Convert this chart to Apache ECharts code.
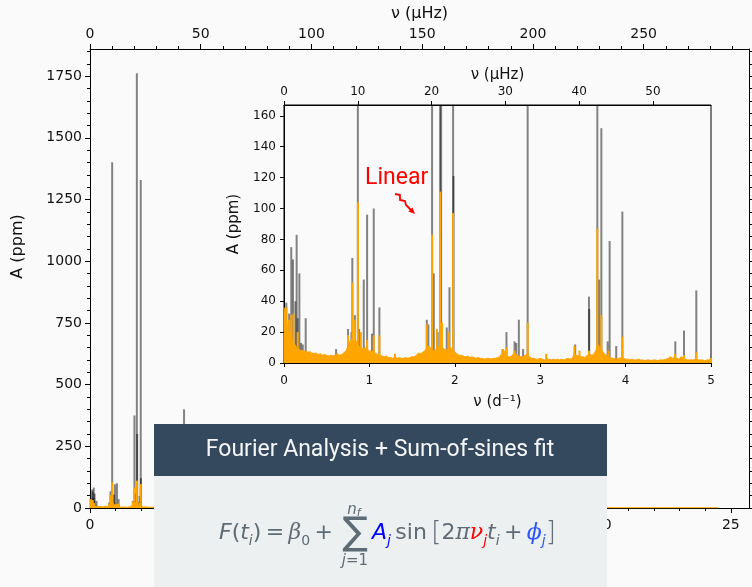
<!DOCTYPE html>
<html>
<head>
<meta charset="utf-8">
<script src="https://cdn.jsdelivr.net/npm/echarts@6.0.0/dist/echarts.min.js"></script>
<style>
  html, body { margin: 0; padding: 0; background: #fafafa; }
  #chart { width: 752px; height: 587px; }
</style>
</head>
<body>
<div id="chart"></div>
<script>
  // ---- data ----
  var CPD_TO_UHZ = 11.574;          // 1 d^-1 in microHz
  var MAIN_MAX = 25.71, MAIN_AMP_MAX = 1860;
  var INSET_MAX = 5, INSET_AMP_MAX = 167;

  // orange amplitude floor, 0..5 d^-1 every 0.025
  var floorStep = 0.025;
  var orangeFloor = [
    36, 30, 18, 20, 14,   12, 10, 9, 8, 8,   7.5, 7, 7.5, 6.5, 6,   6.5, 5.5, 6, 5, 5.5,
    5, 4.5, 5, 4.5, 5,   6, 5, 5.5, 6.5, 8,   11, 14, 16, 13, 14,   11, 10, 9, 10, 8.5,
    8, 7.5, 8, 6, 5.5,   5, 4.5, 4, 4.5, 3.5,   3.5, 3, 4, 3, 3.5,   3, 3, 3.5, 3, 3.5,
    4, 4, 5, 6.5, 6,   7, 8, 10, 11, 9,   8, 8.5, 9, 12, 10,   9, 8.5, 9, 10, 9,
    7, 6, 5, 5, 4.5,   4, 4.5, 3.5, 4, 3.5,   3, 3.5, 3, 3, 2.5,   3, 3, 2.5, 3, 3,
    3.5, 4, 6, 8, 6,   4, 4, 5, 7, 5,   4.5, 4, 4, 5, 6,   4, 3, 3, 2.5, 2.5,
    3, 2.5, 2, 3, 2.5,   2, 2.5, 2, 2.5, 2,   2.5, 2, 2.5, 3, 2.5,   3, 6, 5, 4.5, 4,
    4, 3.5, 5, 6, 5,   5.5, 8, 12, 10, 8,   6, 5, 4, 3.5, 3,   3, 2.5, 3, 3.5, 3,
    2.5, 2.5, 2, 2.5, 2,   2, 2.5, 2, 2, 1.5,   2, 2, 1.5, 2, 2,   1.5, 2, 2, 2, 2.5,
    3, 4, 3, 4, 3,   2.5, 4, 3.5, 2.5, 2,   2, 2, 2, 3, 2,   2, 2, 1.5, 2, 2,
    3
  ];
  // orange floor beyond 5 d^-1, every 0.5 from 5.5
  var tailStart = 5.5, tailStep = 0.5;
  var orangeTail = [2, 2, 1.5, 2, 1.5, 1.5, 2, 1.5, 1.5, 1.5, 1, 1.5, 1.5, 1, 1.5, 1, 1, 1.5, 1, 1,
                    1.5, 1, 1, 1, 1.5, 1, 1, 1, 1, 1.5, 1, 1, 1, 1, 1, 1, 1, 1, 1];

  // orange peaks [freq d^-1, amplitude ppm]
  var orangePeaks = [
    [0.027, 36], [0.06, 28], [0.085, 31], [0.11, 32], [0.16, 20],
    [0.75, 18], [0.80, 52], [0.83, 28], [0.865, 104], [0.90, 20], [0.973, 15], [1.05, 18], [1.117, 18], [1.30, 6],
    [1.672, 25], [1.734, 83], [1.79, 22], [1.828, 111], [1.85, 26], [1.93, 20], [1.98, 97],
    [2.56, 9], [2.605, 10], [2.70, 8], [2.853, 26], [3.07, 6],
    [3.40, 11], [3.46, 8], [3.571, 8], [3.669, 87], [3.716, 31], [3.80, 8], [3.962, 17],
    [4.58, 6], [4.684, 5], [4.828, 7]
  ];
  // grey peaks [freq d^-1, amplitude ppm]
  var greyPeaks = [
    [0.027, 39], [0.06, 32], [0.085, 75], [0.105, 67], [0.133, 40], [0.148, 83], [0.16, 29], [0.18, 58],
    [0.20, 13], [0.22, 12], [0.254, 29],
    [0.61, 9], [0.75, 22], [0.79, 20], [0.80, 68], [0.83, 31], [0.865, 1401], [0.88, 22], [0.934, 54],
    [0.973, 96], [1.03, 19], [1.051, 100], [1.117, 36],
    [1.672, 28], [1.69, 25], [1.734, 375], [1.754, 58], [1.80, 20], [1.828, 1762], [1.84, 300],
    [1.906, 23], [1.9375, 49], [1.98, 1329], [1.985, 121],
    [2.56, 9], [2.605, 20], [2.70, 14], [2.72, 13], [2.75, 28], [2.80, 9], [2.853, 250],
    [3.41, 12], [3.571, 43], [3.574, 35], [3.669, 400], [3.69, 54], [3.716, 152], [3.79, 14],
    [3.813, 79], [3.89, 11], [3.962, 98],
    [4.582, 14], [4.684, 21], [4.828, 47]
  ];

  // tick labels
  var mainCpdTicks = [0, 5, 10, 15, 20, 25];
  var mainCpdMinor = [1, 2, 3, 4, 6, 7, 8, 9, 11, 12, 13, 14, 16, 17, 18, 19, 21, 22, 23, 24];
  var mainUhzTicks = [0, 50, 100, 150, 200, 250];
  var mainUhzMinor = [10, 20, 30, 40, 60, 70, 80, 90, 110, 120, 130, 140, 160, 170, 180, 190,
                      210, 220, 230, 240, 260, 270, 280, 290];
  var mainAmpTicks = [0, 250, 500, 750, 1000, 1250, 1500, 1750];
  var mainAmpMinor = [50, 100, 150, 200, 300, 350, 400, 450, 550, 600, 650, 700, 800, 850, 900, 950,
                      1050, 1100, 1150, 1200, 1300, 1350, 1400, 1450, 1550, 1600, 1650, 1700, 1800, 1850];
  var insetCpdTicks = [0, 1, 2, 3, 4, 5];
  var insetUhzTicks = [0, 10, 20, 30, 40, 50];
  var insetAmpTicks = [0, 20, 40, 60, 80, 100, 120, 140, 160];

  // ---- build ----
  var floorData = orangeFloor.map(function (v, i) { return [i * floorStep, v]; })
    .concat(orangeTail.map(function (v, i) { return [tailStart + i * tailStep, v]; }));

  var ORANGE = '#ffa500';
  var GREY = 'rgba(0,0,0,0.48)';
  var TXT = '#111';
  var FONT = 'DejaVu Sans';

  function peakRenderer(color) {
    return function (params, api) {
      var f = api.value(0), a = api.value(1);
      var p0 = api.coord([f, 0]);
      var p1 = api.coord([f, a]);
      var top = Math.max(p1[1], params.coordSys.y);
      return {
        type: 'line',
        shape: { x1: p0[0], y1: p0[1], x2: p0[0], y2: top },
        style: { stroke: color, lineWidth: 2 }
      };
    };
  }

  function axis(o) {
    var a = {
      type: 'value',
      gridIndex: o.grid,
      position: o.pos,
      min: 0,
      max: o.max,
      splitLine: { show: false },
      axisLine: { show: o.line !== false, onZero: false, lineStyle: { color: '#000', width: 1 } },
      axisTick: { show: true, customValues: o.ticks, length: o.len, lineStyle: { color: '#000', width: 1 } },
      axisLabel: o.labels === false ? { show: false } : {
        customValues: o.ticks, color: TXT, fontFamily: FONT, fontSize: o.size, margin: o.margin,
        formatter: function (v) { return String(v); }
      }
    };
    if (o.name) {
      a.name = o.name;
      a.nameLocation = 'middle';
      a.nameGap = o.gap;
      a.nameTextStyle = { color: TXT, fontFamily: FONT, fontSize: o.nameSize, padding: o.namePad || 0 };
    }
    return a;
  }

  var chart = echarts.init(document.getElementById('chart'));

  var formulaBase = { fontFamily: FONT, fontSize: 22, lineHeight: 30, fill: '#5f6b75' };
  function rs(extra) {
    var s = {};
    for (var k in formulaBase) s[k] = formulaBase[k];
    for (var k2 in extra) s[k2] = extra[k2];
    return s;
  }
  var formulaRich = {
    it: rs({ fontStyle: 'italic' }),
    rm: rs({}),
    gk: rs({ fontFamily: 'DejaVu Serif', fontStyle: 'italic' }),
    sub: rs({ fontStyle: 'italic', fontSize: 14, lineHeight: 16, verticalAlign: 'bottom' }),
    sub0: rs({ fontSize: 14, lineHeight: 16, verticalAlign: 'bottom' }),
    A: rs({ fontStyle: 'italic', fill: '#0000ff' }),
    subA: rs({ fontStyle: 'italic', fontSize: 14, lineHeight: 16, verticalAlign: 'bottom', fill: '#0000ff' }),
    nu: rs({ fontFamily: 'DejaVu Serif', fontStyle: 'italic', fill: '#ff0000' }),
    subNu: rs({ fontStyle: 'italic', fontSize: 14, lineHeight: 16, verticalAlign: 'bottom', fill: '#ff0000' }),
    phi: rs({ fontFamily: 'DejaVu Serif', fontStyle: 'italic', fill: '#2a55ff' }),
    subPhi: rs({ fontStyle: 'italic', fontSize: 14, lineHeight: 16, verticalAlign: 'bottom', fill: '#2a55ff' }),
    br: rs({ fontSize: 26, fontWeight: 'lighter' }),
    lim: rs({ fontStyle: 'italic', fontSize: 15, lineHeight: 18 }),
    limSub: rs({ fontStyle: 'italic', fontSize: 11, lineHeight: 12, verticalAlign: 'bottom' }),
    limRm: rs({ fontSize: 15, lineHeight: 18 })
  };

  var option = {
    backgroundColor: '#fafafa',
    animation: false,
    grid: [
      { left: 90, right: 3, top: 49, bottom: 79, show: false },
      { left: 284, right: 41, top: 105, bottom: 224, show: true, backgroundColor: '#fafafa',
        borderColor: '#000', borderWidth: 1 }
    ],
    xAxis: [
      axis({ grid: 0, pos: 'bottom', max: MAIN_MAX, ticks: mainCpdTicks, len: 5, size: 14, margin: 10 }),
      axis({ grid: 0, pos: 'top', max: MAIN_MAX * CPD_TO_UHZ, ticks: mainUhzTicks, len: 5, size: 14, margin: 8,
             name: 'ν (μHz)', gap: 27, nameSize: 16 }),
      axis({ grid: 0, pos: 'bottom', max: MAIN_MAX, ticks: mainCpdMinor, len: 3, labels: false, line: false }),
      axis({ grid: 0, pos: 'top', max: MAIN_MAX * CPD_TO_UHZ, ticks: mainUhzMinor, len: 3, labels: false, line: false }),
      axis({ grid: 1, pos: 'bottom', max: INSET_MAX, ticks: insetCpdTicks, len: 4, size: 12, margin: 12,
             name: 'ν (d⁻¹)', gap: 32, nameSize: 15 }),
      axis({ grid: 1, pos: 'top', max: INSET_MAX * CPD_TO_UHZ, ticks: insetUhzTicks, len: 4, size: 12, margin: 7,
             name: 'ν (μHz)', gap: 22, nameSize: 15 })
    ],
    yAxis: [
      axis({ grid: 0, pos: 'left', max: MAIN_AMP_MAX, ticks: mainAmpTicks, len: 5, size: 14, margin: 8,
             name: 'A (ppm)', gap: 64, nameSize: 16, namePad: [0, 0, 0, 64] }),
      axis({ grid: 0, pos: 'right', max: MAIN_AMP_MAX, ticks: mainAmpTicks, len: 5, labels: false }),
      axis({ grid: 0, pos: 'left', max: MAIN_AMP_MAX, ticks: mainAmpMinor, len: 3, labels: false, line: false }),
      axis({ grid: 0, pos: 'right', max: MAIN_AMP_MAX, ticks: mainAmpMinor, len: 3, labels: false, line: false }),
      axis({ grid: 1, pos: 'left', max: INSET_AMP_MAX, ticks: insetAmpTicks, len: 4, size: 12, margin: 8,
             name: 'A (ppm)', gap: 42, nameSize: 15, namePad: [0, 0, 0, 20] })
    ],
    series: [
      { type: 'custom', xAxisIndex: 0, yAxisIndex: 0, data: greyPeaks, renderItem: peakRenderer(GREY), silent: true },
      { type: 'line', xAxisIndex: 0, yAxisIndex: 0, data: floorData, showSymbol: false, silent: true,
        lineStyle: { color: ORANGE, width: 1 }, areaStyle: { color: ORANGE, opacity: 1 } },
      { type: 'custom', xAxisIndex: 0, yAxisIndex: 0, data: orangePeaks, renderItem: peakRenderer(ORANGE), silent: true },
      { type: 'custom', xAxisIndex: 4, yAxisIndex: 4, data: greyPeaks, renderItem: peakRenderer(GREY), silent: true },
      { type: 'line', xAxisIndex: 4, yAxisIndex: 4, data: floorData, showSymbol: false, silent: true,
        lineStyle: { color: ORANGE, width: 1 }, areaStyle: { color: ORANGE, opacity: 1 } },
      { type: 'custom', xAxisIndex: 4, yAxisIndex: 4, data: orangePeaks, renderItem: peakRenderer(ORANGE), silent: true }
    ],
    graphic: [
      // "Linear" annotation
      { type: 'text', z: 50, left: 365, top: 167,
        style: { text: 'Linear', fill: '#ff0000', fontFamily: 'Roboto', fontSize: 23 } },
      { type: 'polyline', z: 50,
        shape: { points: [[395, 194], [400, 195], [400, 200], [405, 201], [406, 205], [411, 210]] },
        style: { stroke: '#ff0000', lineWidth: 1.8, fill: null } },
      { type: 'polygon', z: 50,
        shape: { points: [[415, 214], [412.6, 207.4], [408.4, 211.6]] },
        style: { fill: '#ff0000' } },
      // overlay box
      { type: 'rect', z: 100, shape: { x: 154, y: 424, width: 453, height: 52 }, style: { fill: '#34495e' } },
      { type: 'rect', z: 100, shape: { x: 154, y: 476, width: 453, height: 111 }, style: { fill: '#ecf0f1' } },
      { type: 'text', z: 101, x: 380, y: 450,
        style: { text: 'Fourier Analysis + Sum-of-sines fit', fill: '#f4f6f7', fontFamily: 'Roboto', fontSize: 23,
                 align: 'center', verticalAlign: 'middle' } },
      { type: 'text', z: 101, x: 333, y: 533,
        style: { text: '{it|F}{rm|(}{it|t}{sub|i}{rm|)\u2009=\u2009}{gk|β}{sub0|0}{rm|\u2009+}', rich: formulaRich,
                 align: 'right', verticalAlign: 'middle' } },
      { type: 'text', z: 101, x: 355, y: 534,
        style: { text: '∑', fill: '#5f6b75', fontFamily: FONT, fontSize: 38, align: 'center', verticalAlign: 'middle' } },
      { type: 'text', z: 101, x: 354, y: 510,
        style: { text: '{lim|n}{limSub|f}', rich: formulaRich, align: 'center', verticalAlign: 'middle' } },
      { type: 'text', z: 101, x: 355, y: 561,
        style: { text: '{lim|j}{limRm|=1}', rich: formulaRich, align: 'center', verticalAlign: 'middle' } },
      { type: 'text', z: 101, x: 372, y: 533,
        style: { text: '{A|A}{subA|j}{rm|\u2009sin\u2009}{br|[}{rm|2}{gk|π}{nu|ν}{subNu|j}{it|t}{sub|i}{rm|\u2009+\u2009}{phi|ϕ}{subPhi|j}{br|]}',
                 rich: formulaRich, align: 'left', verticalAlign: 'middle' } }
    ]
  };

  chart.setOption(option);
</script>
</body>
</html>
